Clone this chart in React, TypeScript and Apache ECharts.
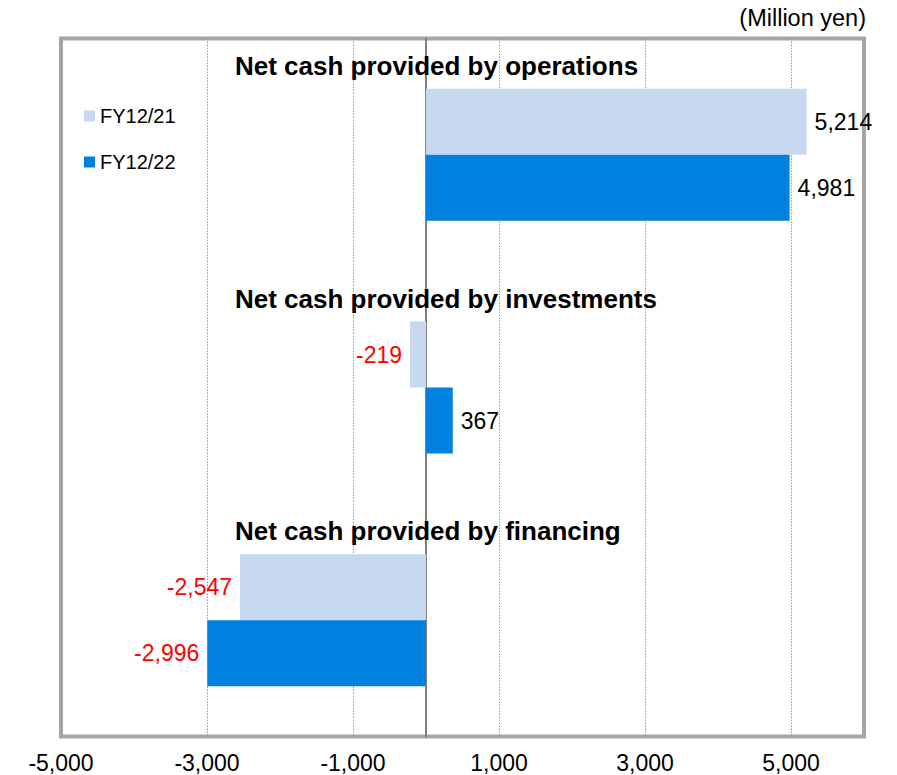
import React, { useEffect, useRef } from "react";
import * as echarts from "echarts";

const categories = [
  "Net cash provided by operations",
  "Net cash provided by investments",
  "Net cash provided by financing",
];
const seriesNames = ["FY12/21", "FY12/22"];
const fy21Values = [5214, -219, -2547];
const fy22Values = [4981, 367, -2996];
const axisMin = -5000;
const axisMax = 6000;
const unitLabel = "(Million yen)";

const FONT = "'Liberation Sans', Arial, sans-serif";
const LIGHT = "#C6D9F1";
const DARK = "#0080DF";

function fmt(v: number) {
  return v.toLocaleString("en-US");
}

function makeData(values: number[]) {
  return values.map((v) => ({
    value: v,
    label: {
      show: true,
      position: v < 0 ? "left" : "right",
      distance: 8,
      color: v < 0 ? "#FF0000" : "#000000",
      fontSize: 23,
      fontFamily: FONT,
      formatter: () => fmt(v),
    },
  }));
}

export default function App() {
  const ref = useRef<HTMLDivElement>(null);
  useEffect(() => {
    if (!ref.current) return;
    const chart = echarts.init(ref.current, undefined, { renderer: "svg" });
    const option: any = {
      animation: false,
      backgroundColor: "#ffffff",
      grid: {
        left: 61,
        top: 38.5,
        right: 33,
        bottom: 38.5,
        containLabel: false,
        show: true,
        borderColor: "#A6A6A6",
        borderWidth: 4,
        backgroundColor: "transparent",
      },
      legend: {
        data: seriesNames,
        orient: "vertical",
        left: 84,
        top: 106,
        padding: 0,
        icon: "rect",
        itemWidth: 11,
        itemHeight: 11,
        itemGap: 26,
        textStyle: { fontSize: 20, color: "#000", fontFamily: FONT },
      },
      xAxis: {
        type: "value",
        min: axisMin,
        max: axisMax,
        interval: 1000,
        axisLine: { show: false },
        axisTick: { show: false },
        axisLabel: {
          fontSize: 23,
          color: "#000",
          fontFamily: FONT,
          margin: 15,
          showMinLabel: true,
          showMaxLabel: true,
          formatter: (v: number) => (Math.abs(v / 1000) % 2 === 1 ? fmt(v) : ""),
        },
        splitLine: {
          show: true,
          lineStyle: {
            color: ["#999999", "rgba(0,0,0,0)"],
            type: [1.5, 1.5],
            width: 1,
          },
        },
      },
      yAxis: {
        type: "category",
        data: categories,
        inverse: true,
        axisLine: { show: true, onZero: true, lineStyle: { color: "#808080", width: 2 } },
        axisTick: { show: false },
        axisLabel: { show: false },
        splitLine: { show: false },
      },
      series: [
        {
          name: seriesNames[0],
          type: "bar",
          data: makeData(fy21Values),
          barWidth: 66,
          barGap: "0%",
          itemStyle: { color: LIGHT },
          z: 1,
        },
        {
          name: seriesNames[1],
          type: "bar",
          data: makeData(fy22Values),
          barWidth: 66,
          barGap: "0%",
          itemStyle: { color: DARK },
          z: 1,
        },
      ],
    };
    chart.setOption(option);
    const titles = categories.map((c) => {
      const y = chart.convertToPixel({ yAxisIndex: 0 }, c) as number;
      return {
        type: "text",
        left: 235,
        top: y - 102,
        style: {
          text: c,
          fontSize: 26,
          fontWeight: "bold",
          fill: "#000",
          fontFamily: FONT,
        },
        z: 10,
      };
    });
    chart.setOption({
      graphic: [
        ...titles,
        {
          type: "text",
          right: 31,
          top: 6,
          style: { text: unitLabel, fontSize: 23.5, fill: "#000", fontFamily: FONT },
        },
      ],
    });
    return () => chart.dispose();
  }, []);
  return (
    <div
      ref={ref}
      style={{ position: "fixed", left: 0, top: 0, width: 897, height: 775 }}
    />
  );
}
